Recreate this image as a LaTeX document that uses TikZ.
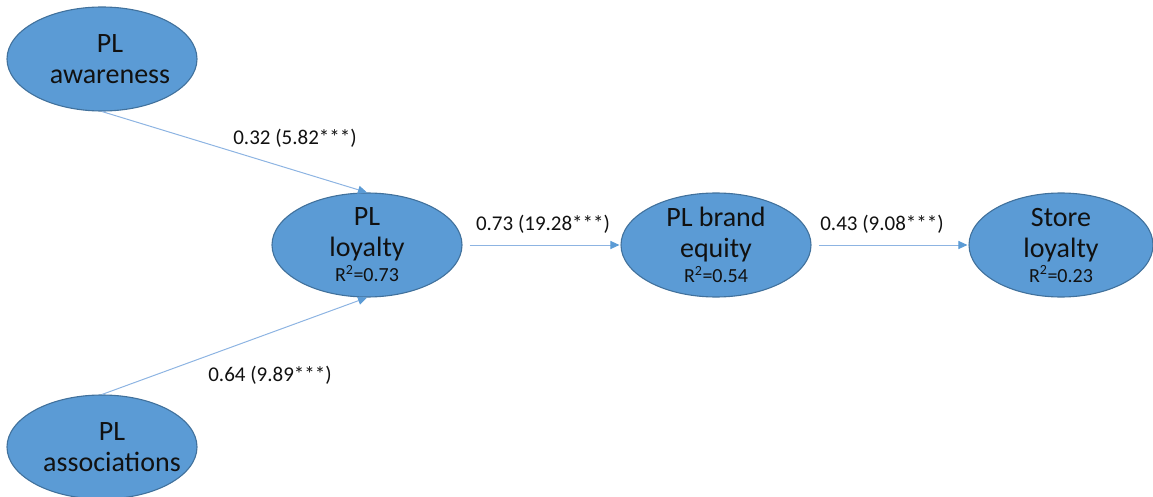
\documentclass[tikz,border=0pt]{standalone}
\usepackage{fontspec}
\setmainfont{Carlito}
\usetikzlibrary{shapes.geometric,arrows.meta}
\definecolor{fillblue}{HTML}{5B9BD5}
\definecolor{edgeblue}{HTML}{41719C}
\definecolor{lineblue}{HTML}{8DB4E2}
\definecolor{tipblue}{HTML}{5B9BD5}
\definecolor{txt}{HTML}{111111}
\tikzset{
  ell/.style={ellipse, draw=edgeblue, line width=1.1pt, fill=fillblue, inner sep=0pt, minimum width=190pt, minimum height=104pt},
  etxt/.style={align=center, inner sep=0pt, text=txt, font=\fontsize{28}{31}\selectfont},
  lab/.style={inner sep=0pt, text=txt, font=\fontsize{21}{25}\selectfont},
  conn/.style={draw=lineblue, line width=1pt, -{Triangle[length=9pt,width=8pt,color=tipblue]}},
}
\newcommand{\rsq}[1]{{\fontsize{20}{20}\selectfont R\textsuperscript{2}=#1}}
\begin{document}
\begin{tikzpicture}[x=1pt,y=1pt]
\useasboundingbox (0,0) rectangle (1153,-497);
\node[ell] (aw) at (102,-59) {};
\node[etxt] (awt) at (110,-59) {PL\\awareness};
\node[ell] (loy) at (367,-245) {};
\node[etxt] (loyt) at (367,-245) {PL\\loyalty\\[-6pt]\rsq{0.73}};
\node[ell] (be) at (716,-245) {};
\node[etxt] (bet) at (716,-245) {PL brand\\equity\\[-6pt]\rsq{0.54}};
\node[ell, minimum width=184pt] (st) at (1061,-245) {};
\node[etxt] (stt) at (1061,-245) {Store\\loyalty\\[-6pt]\rsq{0.23}};
\node[ell] (as) at (102,-447) {};
\node[etxt] (ast) at (112,-447) {PL\\associations};
\draw[conn] (aw.south) -- (loy.north);
\draw[conn] (as.north) -- (loy.south);
\draw[conn, shorten <=7pt, shorten >=1pt] (loy.east) -- (be.west);
\draw[conn, shorten <=7pt, shorten >=1pt] (be.east) -- (st.west);
\node[lab] (l1) at (295,-138) {0.32 (5.82***)};
\node[lab] (l2) at (270,-375) {0.64 (9.89***)};
\node[lab] (l3) at (543,-224) {0.73 (19.28***)};
\node[lab] (l4) at (882,-224) {0.43 (9.08***)};
\end{tikzpicture}
\end{document}
